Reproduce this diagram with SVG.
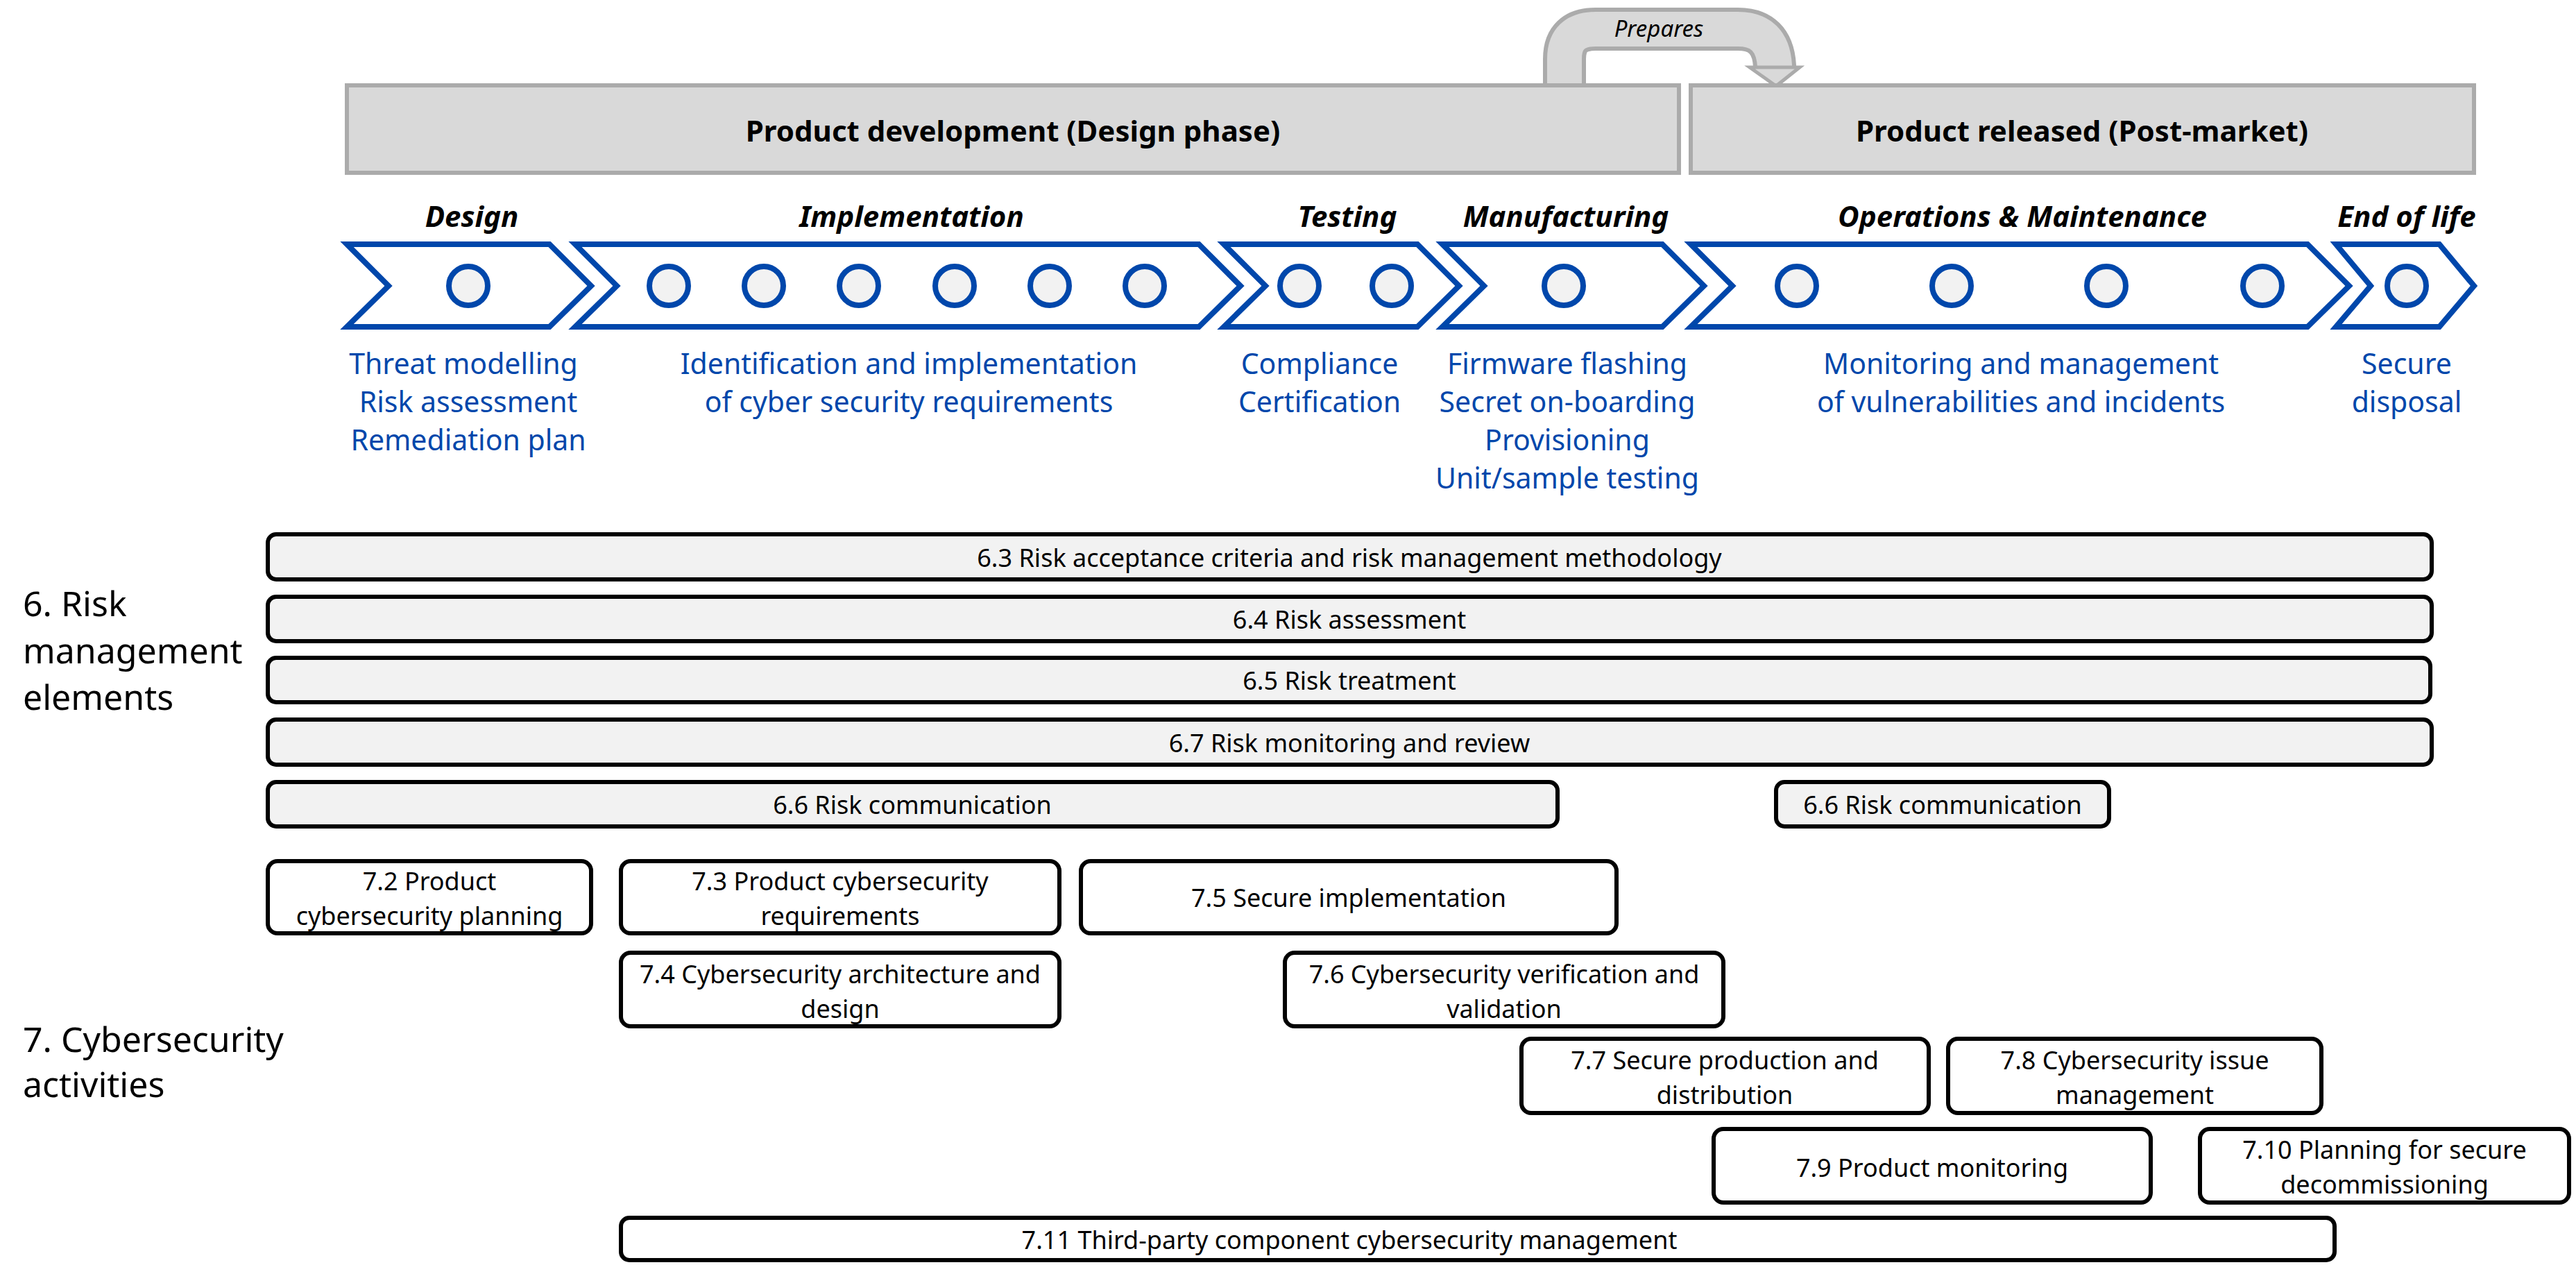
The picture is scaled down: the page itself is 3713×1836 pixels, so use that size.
<svg xmlns="http://www.w3.org/2000/svg" width="3713" height="1836" viewBox="0 0 3713 1836">
<style>
text{font-family:"Noto Sans","Open Sans",sans-serif;}
.hdr{fill:#d9d9d9;stroke:#ababab;stroke-width:6}
.ht{font-size:42px;font-weight:bold;text-anchor:middle;dominant-baseline:central}
.ph{font-size:42px;font-weight:bold;font-style:italic;text-anchor:middle;dominant-baseline:central}
.chev{fill:#fff;stroke:#0047ab;stroke-width:8}
.dot{fill:#f2f2f2;stroke:#0047ab;stroke-width:8}
.bl{font-size:41px;fill:#0047ab;text-anchor:middle;dominant-baseline:central}
.bar{fill:#f2f2f2;stroke:#000;stroke-width:6}
.box{fill:#fff;stroke:#000;stroke-width:6}
.bt{font-size:36px;text-anchor:middle;dominant-baseline:central}
.lt{font-size:50px;dominant-baseline:central}
</style>
<rect width="3713" height="1836" fill="#fff"/>
<g id="connectors">
<path d="M2255 125 V85 Q2255 42 2300 42 H2505 Q2555 42 2558 95 V100" fill="none" stroke="#ababab" stroke-width="62"/>
<path d="M2255 128 V85 Q2255 42 2300 42 H2505 Q2555 42 2558 95 V102" fill="none" stroke="#d9d9d9" stroke-width="50"/>
<polygon points="2522,97 2594,97 2560,124" fill="#d9d9d9" stroke="#ababab" stroke-width="5"/>
<text x="2391" y="40" font-size="33" font-style="italic" text-anchor="middle" dominant-baseline="central">Prepares</text>
</g>
<g id="hdr-dev"><rect class="hdr" x="500" y="123" width="1920" height="126"/><text class="ht" x="1460" y="187">Product development (Design phase)</text></g>
<g id="hdr-rel"><rect class="hdr" x="2437" y="123" width="1129" height="126"/><text class="ht" x="3001" y="187">Product released (Post-market)</text></g>
<g id="ph-design"><text class="ph" x="680" y="310">Design</text><polygon class="chev" points="500,352 792,352 852,412 792,471 500,471 560,412"/><circle class="dot" cx="675" cy="412" r="28"/>
<text class="bl" x="668" y="523">Threat modelling</text><text class="bl" x="675" y="578">Risk assessment</text><text class="bl" x="675" y="633">Remediation plan</text></g>
<g id="ph-impl"><text class="ph" x="1314" y="310">Implementation</text><polygon class="chev" points="829,352 1728,352 1788,412 1728,471 829,471 889,412"/>
<circle class="dot" cx="964" cy="412" r="28"/><circle class="dot" cx="1101" cy="412" r="28"/><circle class="dot" cx="1238" cy="412" r="28"/><circle class="dot" cx="1376" cy="412" r="28"/><circle class="dot" cx="1513" cy="412" r="28"/><circle class="dot" cx="1650" cy="412" r="28"/>
<text class="bl" x="1310" y="523">Identification and implementation</text><text class="bl" x="1310" y="578">of cyber security requirements</text></g>
<g id="ph-test"><text class="ph" x="1942" y="310">Testing</text><polygon class="chev" points="1764,352 2043,352 2103,412 2043,471 1764,471 1824,412"/>
<circle class="dot" cx="1873" cy="412" r="28"/><circle class="dot" cx="2006" cy="412" r="28"/>
<text class="bl" x="1902" y="523">Compliance</text><text class="bl" x="1902" y="578">Certification</text></g>
<g id="ph-manu"><text class="ph" x="2257" y="310">Manufacturing</text><polygon class="chev" points="2079,352 2396,352 2456,412 2396,471 2079,471 2139,412"/>
<circle class="dot" cx="2254" cy="412" r="28"/>
<text class="bl" x="2259" y="523">Firmware flashing</text><text class="bl" x="2259" y="578">Secret on-boarding</text><text class="bl" x="2259" y="633">Provisioning</text><text class="bl" x="2259" y="688">Unit/sample testing</text></g>
<g id="ph-ops"><text class="ph" x="2915" y="310">Operations &amp; Maintenance</text><polygon class="chev" points="2437,352 3326,352 3386,412 3326,471 2437,471 2497,412"/>
<circle class="dot" cx="2590" cy="412" r="28"/><circle class="dot" cx="2813" cy="412" r="28"/><circle class="dot" cx="3036" cy="412" r="28"/><circle class="dot" cx="3261" cy="412" r="28"/>
<text class="bl" x="2913" y="523">Monitoring and management</text><text class="bl" x="2913" y="578">of vulnerabilities and incidents</text></g>
<g id="ph-eol"><text class="ph" x="3469" y="310">End of life</text><polygon class="chev" points="3367,352 3516,352 3566,412 3516,471 3367,471 3417,412"/>
<circle class="dot" cx="3469" cy="412" r="28"/>
<text class="bl" x="3469" y="523">Secure</text><text class="bl" x="3469" y="578">disposal</text></g>
<g id="lbl6"><text class="lt" x="33" y="869">6. Risk</text><text class="lt" x="33" y="937">management</text><text class="lt" x="33" y="1004">elements</text></g>
<g id="lbl7"><text class="lt" x="33" y="1497">7. Cybersecurity</text><text class="lt" x="33" y="1562">activities</text></g>
<g id="n63"><rect class="bar" x="386" y="770" width="3119" height="65" rx="12"/><text class="bt" x="1945" y="803">6.3 Risk acceptance criteria and risk management methodology</text></g>
<g id="n64"><rect class="bar" x="386" y="860" width="3119" height="64" rx="12"/><text class="bt" x="1945" y="892">6.4 Risk assessment</text></g>
<g id="n65"><rect class="bar" x="386" y="948" width="3117" height="64" rx="12"/><text class="bt" x="1945" y="980">6.5 Risk treatment</text></g>
<g id="n67"><rect class="bar" x="386" y="1037" width="3119" height="65" rx="12"/><text class="bt" x="1945" y="1070">6.7 Risk monitoring and review</text></g>
<g id="n66a"><rect class="bar" x="386" y="1127" width="1859" height="64" rx="12"/><text class="bt" x="1315" y="1159">6.6 Risk communication</text></g>
<g id="n66b"><rect class="bar" x="2560" y="1127" width="480" height="64" rx="12"/><text class="bt" x="2800" y="1159">6.6 Risk communication</text></g>
<g id="n72"><rect class="box" x="386" y="1241" width="466" height="104" rx="14"/><text class="bt" x="619" y="1269">7.2 Product</text><text class="bt" x="619" y="1319">cybersecurity planning</text></g>
<g id="n73"><rect class="box" x="895" y="1241" width="632" height="104" rx="14"/><text class="bt" x="1211" y="1269">7.3 Product cybersecurity</text><text class="bt" x="1211" y="1319">requirements</text></g>
<g id="n75"><rect class="box" x="1558" y="1241" width="772" height="104" rx="14"/><text class="bt" x="1944" y="1293">7.5 Secure implementation</text></g>
<g id="n74"><rect class="box" x="895" y="1373" width="632" height="106" rx="14"/><text class="bt" x="1211" y="1403">7.4 Cybersecurity architecture and</text><text class="bt" x="1211" y="1453">design</text></g>
<g id="n76"><rect class="box" x="1852" y="1373" width="632" height="106" rx="14"/><text class="bt" x="2168" y="1403">7.6 Cybersecurity verification and</text><text class="bt" x="2168" y="1453">validation</text></g>
<g id="n77"><rect class="box" x="2193" y="1497" width="587" height="107" rx="14"/><text class="bt" x="2486" y="1527">7.7 Secure production and</text><text class="bt" x="2486" y="1577">distribution</text></g>
<g id="n78"><rect class="box" x="2808" y="1497" width="538" height="107" rx="14"/><text class="bt" x="3077" y="1527">7.8 Cybersecurity issue</text><text class="bt" x="3077" y="1577">management</text></g>
<g id="n79"><rect class="box" x="2470" y="1627" width="630" height="106" rx="14"/><text class="bt" x="2785" y="1682">7.9 Product monitoring</text></g>
<g id="n710"><rect class="box" x="3171" y="1627" width="532" height="106" rx="14"/><text class="bt" x="3437" y="1656">7.10 Planning for secure</text><text class="bt" x="3437" y="1706">decommissioning</text></g>
<g id="n711"><rect class="box" x="895" y="1755" width="2470" height="61" rx="12"/><text class="bt" x="1945" y="1786">7.11 Third-party component cybersecurity management</text></g>
</svg>
